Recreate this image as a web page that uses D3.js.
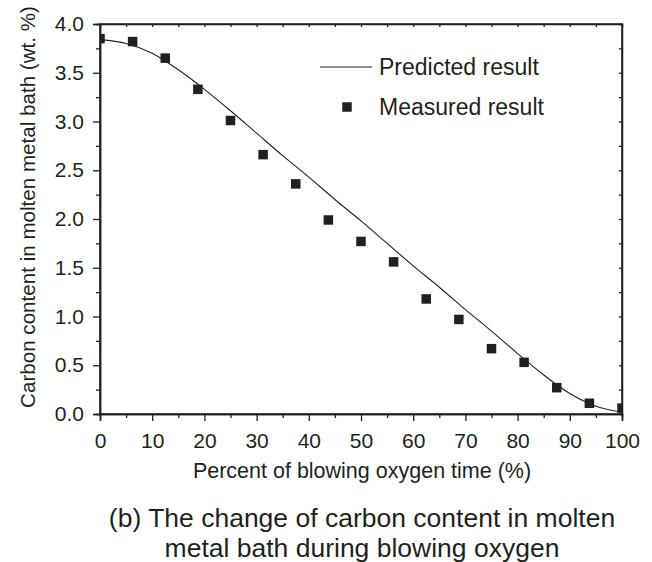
<!DOCTYPE html>
<html><head><meta charset="utf-8">
<script src="https://cdn.jsdelivr.net/npm/d3@7"></script>
<style>
html,body{margin:0;padding:0;background:#fff;}
text{font-family:"Liberation Sans",Arial,sans-serif;fill:#231f20;}
</style></head>
<body>
<svg id="chart" width="652" height="562"></svg>
<script>
// ---- data ----
const measuredX = [0, 6.25, 12.5, 18.75, 25, 31.25, 37.5, 43.75, 50, 56.25, 62.5, 68.75, 75, 81.25, 87.5, 93.75, 100];
const measuredY = [3.85, 3.82, 3.65, 3.33, 3.01, 2.66, 2.36, 1.99, 1.77, 1.56, 1.18, 0.97, 0.67, 0.53, 0.27, 0.11, 0.06];
const predictedX = [0, 5, 10, 15, 20, 25, 30, 35, 40, 45, 50, 55, 60, 65, 70, 75, 80, 85, 90, 95, 100];
const predictedY = [3.84, 3.80, 3.70, 3.53, 3.33, 3.11, 2.88, 2.65, 2.43, 2.20, 1.98, 1.75, 1.52, 1.30, 1.07, 0.85, 0.62, 0.40, 0.21, 0.08, 0.02];
const xTicks = [0, 10, 20, 30, 40, 50, 60, 70, 80, 90, 100];
const yTicks = [0.0, 0.5, 1.0, 1.5, 2.0, 2.5, 3.0, 3.5, 4.0];
const legendLabels = ["Predicted result", "Measured result"];
const xTitle = "Percent of blowing oxygen time (%)";
const yTitle = "Carbon content in molten metal bath (wt. %)";
const captionLines = ["(b) The change of carbon content in molten", "metal bath during blowing oxygen"];

(function () {
const ink = "#231f20";
const L = 100, R = 622, T = 24, B = 414;
const svg = d3.select("#chart");
const x = d3.scaleLinear().domain([0, 100]).range([L, R]);
const y = d3.scaleLinear().domain([0, 4]).range([B, T]);

svg.append("defs").append("clipPath").attr("id", "clip")
  .append("rect").attr("x", L).attr("y", T).attr("width", R - L).attr("height", B - T);

const xMinor = d3.range(5, 100, 10);
const yMinor = d3.range(0.25, 4, 0.5);
const tickFont = 21;

const gBottom = svg.append("g").attr("transform", `translate(0,${B})`)
  .call(d3.axisBottom(x).tickValues(xTicks).tickSize(7).tickPadding(12).tickFormat(d3.format("d")));
gBottom.append("g").call(d3.axisBottom(x).tickValues(xMinor).tickSize(4).tickFormat(""));
const gLeft = svg.append("g").attr("transform", `translate(${L},0)`)
  .call(d3.axisLeft(y).tickValues(yTicks).tickSize(7).tickPadding(9).tickFormat(d3.format(".1f")));
gLeft.append("g").call(d3.axisLeft(y).tickValues(yMinor).tickSize(4).tickFormat(""));
const gTop = svg.append("g").attr("transform", `translate(0,${T})`)
  .call(d3.axisTop(x).tickValues(d3.range(5, 100, 5)).tickSize(-3).tickFormat(""));
const gRight = svg.append("g").attr("transform", `translate(${R},0)`)
  .call(d3.axisRight(y).tickValues(d3.range(0.25, 4, 0.25)).tickSize(-3).tickFormat(""));

[gBottom, gLeft, gTop, gRight].forEach(g => {
  g.selectAll(".domain").attr("stroke", ink).attr("stroke-width", 1.5);
  g.selectAll("line").attr("stroke", ink).attr("stroke-width", 1.3);
  g.selectAll("text").attr("font-size", tickFont).attr("fill", ink)
    .style("font-family", '"Liberation Sans", Arial, sans-serif');
});
svg.append("rect").attr("x", L).attr("y", T).attr("width", R - L).attr("height", B - T)
  .attr("fill", "none").attr("stroke", ink).attr("stroke-width", 1.5);

const pred = predictedX.map((d, i) => [d, predictedY[i]]);
svg.append("path").datum(pred)
  .attr("clip-path", "url(#clip)")
  .attr("fill", "none").attr("stroke", ink).attr("stroke-width", 1.1)
  .attr("d", d3.line().x(d => x(d[0])).y(d => y(d[1])).curve(d3.curveMonotoneX));

const ms = 9.5;
svg.append("g").attr("clip-path", "url(#clip)")
  .selectAll("rect").data(measuredX.map((d, i) => [d, measuredY[i]])).join("rect")
  .attr("x", d => x(d[0]) - ms / 2).attr("y", d => y(d[1]) - ms / 2)
  .attr("width", ms).attr("height", ms).attr("fill", ink);

const lg = svg.append("g");
lg.append("line").attr("x1", 320).attr("x2", 372).attr("y1", 67).attr("y2", 67)
  .attr("stroke", ink).attr("stroke-width", 1.1);
lg.append("text").attr("x", 379).attr("y", 67).attr("dy", "0.35em")
  .attr("font-size", 23).text(legendLabels[0]);
lg.append("rect").attr("x", 347 - ms / 2).attr("y", 107 - ms / 2).attr("width", ms).attr("height", ms).attr("fill", ink);
lg.append("text").attr("x", 379).attr("y", 107).attr("dy", "0.35em")
  .attr("font-size", 23).text(legendLabels[1]);

svg.append("text").attr("x", 362).attr("y", 478).attr("text-anchor", "middle")
  .attr("font-size", 21.5).text(xTitle);
svg.append("text").attr("transform", `translate(35,207) rotate(-90)`)
  .attr("text-anchor", "middle").attr("font-size", 20.6).text(yTitle);

svg.selectAll("text.cap").data(captionLines).join("text").attr("class", "cap")
  .attr("x", 362).attr("y", (d, i) => 527 + i * 30).attr("text-anchor", "middle")
  .attr("font-size", 26.5).text(d => d);
})();
</script>
</body></html>
